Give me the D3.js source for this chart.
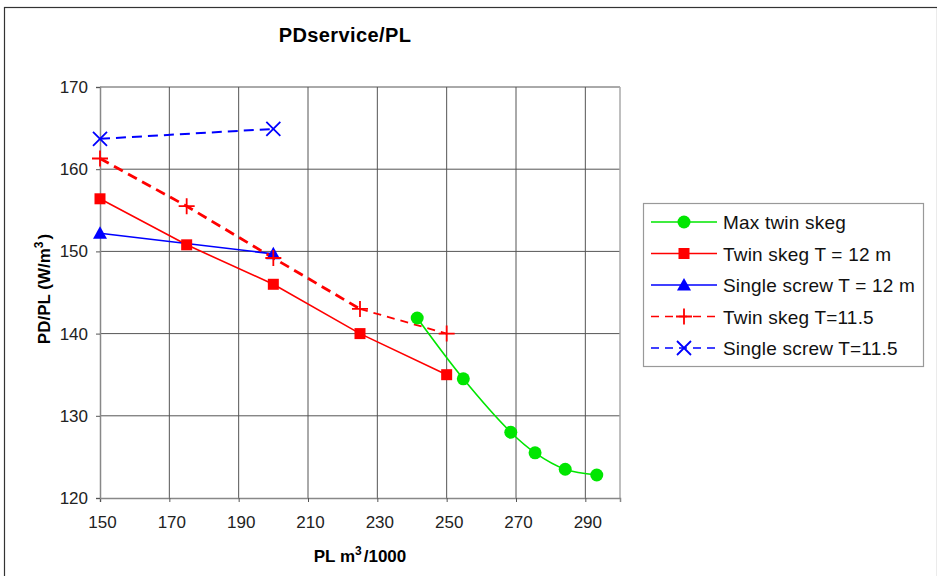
<!DOCTYPE html>
<html>
<head>
<meta charset="utf-8">
<script src="https://cdn.jsdelivr.net/npm/d3@7"></script>
<style>
  body { margin: 0; background: #fff; }
  svg text { font-family: "Liberation Sans", Arial, sans-serif; }
</style>
</head>
<body>
<div id="chart"></div>
<script>
// series values
var maxTwinX = [241.5, 254.8, 268.5, 275.5, 284.2, 293.3];
var maxTwinY = [141.9, 134.5, 128.0, 125.5, 123.5, 122.8];
var twin12X = [150, 175, 200, 225, 250];
var twin12Y = [156.4, 150.8, 146.0, 140.0, 135.0];
var single12X = [150, 200];
var single12Y = [152.2, 149.7];
var twin115X = [150, 175, 200, 225, 250];
var twin115Y = [161.3, 155.5, 149.2, 143.0, 140.0];
var single115X = [150, 200];
var single115Y = [163.7, 164.9];
var xTicks = [150, 170, 190, 210, 230, 250, 270, 290];
var yTicks = [120, 130, 140, 150, 160, 170];

var series = [
  { name: "Max twin skeg", xs: maxTwinX, ys: maxTwinY, color: "#00e600", marker: "circle", dash: null, smooth: true, width: 1.6 },
  { name: "Twin skeg T = 12 m", xs: twin12X, ys: twin12Y, color: "#ff0000", marker: "square", dash: null, smooth: false, width: 1.6 },
  { name: "Single screw T = 12 m", xs: single12X, ys: single12Y, color: "#0000ff", marker: "triangle", dash: null, smooth: false, width: 1.6 },
  { name: "Twin skeg T=11.5", xs: twin115X, ys: twin115Y, color: "#ff0000", marker: "plus", dash: "10,6", smooth: false, width: 2.8, thinLast: true },
  { name: "Single screw T=11.5", xs: single115X, ys: single115Y, color: "#0000ff", marker: "cross", dash: "10,6", smooth: false, width: 2 }
];

var W = 937, H = 576;
var margin = { top: 87, right: 317, bottom: 78, left: 100 };
var width = W - margin.left - margin.right;
var height = H - margin.top - margin.bottom;

var svg = d3.select("#chart").append("svg")
  .attr("width", W)
  .attr("height", H);

svg.append("rect")
  .attr("x", 4.5).attr("y", 7.5)
  .attr("width", W - 4).attr("height", H - 6)
  .style("fill", "#fff")
  .style("stroke", "#333")
  .style("stroke-width", 1.2);

var x = d3.scaleLinear().domain([150, 300]).range([0, width]);
var y = d3.scaleLinear().domain([120, 170]).range([height, 0]);

var g = svg.append("g").attr("transform", "translate(" + margin.left + "," + margin.top + ")");

// grid
g.selectAll(".vgrid").data(xTicks.slice(1)).enter().append("line")
  .attr("x1", function (d) { return x(d); }).attr("x2", function (d) { return x(d); })
  .attr("y1", 0).attr("y2", height)
  .style("stroke", "#555").style("stroke-width", 1);
g.selectAll(".hgrid").data(yTicks.slice(1)).enter().append("line")
  .attr("x1", 0).attr("x2", width)
  .attr("y1", function (d) { return y(d); }).attr("y2", function (d) { return y(d); })
  .style("stroke", "#555").style("stroke-width", 1);

// plot frame right side
g.append("line").attr("x1", width).attr("x2", width).attr("y1", 0).attr("y2", height)
  .style("stroke", "#aaa").style("stroke-width", 1.5);

// axes
var xAxis = g.append("g").attr("transform", "translate(0," + height + ")")
  .call(d3.axisBottom(x).tickValues(xTicks).tickSize(4).tickPadding(14).tickFormat(d3.format("d")));
var yAxis = g.append("g")
  .call(d3.axisLeft(y).tickValues(yTicks).tickSize(4).tickPadding(8).tickFormat(d3.format("d")));
[xAxis, yAxis].forEach(function (a) {
  a.select(".domain").style("stroke", "#888").style("stroke-width", 1.5);
  a.selectAll(".tick line").style("stroke", "#555");
  a.selectAll("text").style("font-size", "17px").style("fill", "#222")
    .style("font-family", "'Liberation Sans', Arial, sans-serif");
});
xAxis.selectAll(".tick text").attr("x", 2);

// lines
series.forEach(function (s) {
  var pts = s.xs.map(function (v, i) { return [v, s.ys[i]]; });
  var line = d3.line()
    .x(function (d) { return x(d[0]); })
    .y(function (d) { return y(d[1]); })
    .curve(s.smooth ? d3.curveCatmullRom.alpha(0.5) : d3.curveLinear);
  var main = s.thinLast ? pts.slice(0, pts.length - 1) : pts;
  g.append("path").datum(main)
    .attr("d", line)
    .style("fill", "none")
    .style("stroke", s.color)
    .style("stroke-width", s.width)
    .style("stroke-dasharray", s.dash);
  if (s.thinLast) {
    g.append("path").datum(pts.slice(pts.length - 2))
      .attr("d", line)
      .style("fill", "none")
      .style("stroke", s.color)
      .style("stroke-width", 1.8)
      .style("stroke-dasharray", "8,6");
  }
});

function drawMarker(sel, type, color, cx, cy) {
  if (type === "circle") {
    sel.append("circle").attr("cx", cx).attr("cy", cy).attr("r", 6.5).style("fill", color);
  } else if (type === "square") {
    sel.append("rect").attr("x", cx - 5.5).attr("y", cy - 5.5).attr("width", 11).attr("height", 11).style("fill", color);
  } else if (type === "triangle") {
    sel.append("path").attr("d", "M" + cx + "," + (cy - 7) + "L" + (cx + 7) + "," + (cy + 5.5) + "L" + (cx - 7) + "," + (cy + 5.5) + "Z")
      .style("fill", color);
  } else if (type === "plus") {
    sel.append("path").attr("d", "M" + (cx - 8) + "," + cy + "H" + (cx + 8) + "M" + cx + "," + (cy - 8) + "V" + (cy + 8))
      .style("stroke", color).style("stroke-width", 1.8);
  } else if (type === "cross") {
    sel.append("path").attr("d", "M" + (cx - 7) + "," + (cy - 7) + "L" + (cx + 7) + "," + (cy + 7) + "M" + (cx + 7) + "," + (cy - 7) + "L" + (cx - 7) + "," + (cy + 7))
      .style("stroke", color).style("stroke-width", 1.8);
  }
}

series.forEach(function (s) {
  var mg = g.append("g");
  s.xs.forEach(function (v, i) {
    drawMarker(mg, s.marker, s.color, x(v), y(s.ys[i]));
  });
});

// title and axis labels
svg.append("text").attr("x", 345).attr("y", 42).attr("text-anchor", "middle")
  .style("font-size", "20px").style("font-weight", "bold").style("letter-spacing", "0.4px")
  .text("PDservice/PL");

var xt = svg.append("text").attr("x", 360).attr("y", 562).attr("text-anchor", "middle")
  .style("font-size", "17px").style("font-weight", "bold");
xt.append("tspan").text("PL m");
xt.append("tspan").attr("dy", -7).style("font-size", "12px").text("3");
xt.append("tspan").attr("dy", 7).attr("dx", 2).text("/1000");

var yt = svg.append("text").attr("transform", "translate(50,289) rotate(-90)").attr("text-anchor", "middle")
  .style("font-size", "17px").style("font-weight", "bold");
yt.append("tspan").text("PD/PL (W/m");
yt.append("tspan").attr("dy", -7).style("font-size", "12px").text("3");
yt.append("tspan").attr("dy", 7).attr("dx", 2).text(")");

// legend
var lg = svg.append("g").attr("transform", "translate(643,203)");
lg.append("rect").attr("x", 0.5).attr("y", 0.5).attr("width", 280).attr("height", 163)
  .style("fill", "#fff").style("stroke", "#999").style("stroke-width", 1.2);
series.forEach(function (s, i) {
  var yy = 19 + i * 31.5;
  lg.append("line").attr("x1", 8).attr("x2", 74).attr("y1", yy).attr("y2", yy)
    .style("stroke", s.color).style("stroke-width", 1.6).style("stroke-dasharray", s.dash ? "8,6" : null);
  drawMarker(lg, s.marker, s.color, 41, yy);
  lg.append("text").attr("x", 80).attr("y", yy + 7)
    .style("font-size", "19px")
    .style("letter-spacing", "0.2px")
    .style("font-family", "'Liberation Sans', Arial, sans-serif")
    .style("fill", "#111")
    .text(s.name);
});
</script>
</body>
</html>
